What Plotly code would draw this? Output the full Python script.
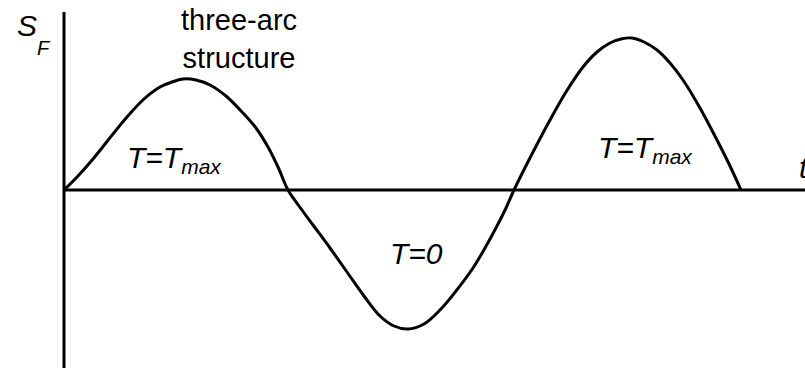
import plotly.graph_objects as go

# Curve samples (t, S_F) in arbitrary units
t_vals = [0, 14, 29, 45, 63, 80, 96, 108, 119, 132, 146, 162, 179, 192, 204, 214, 224,
          235, 249, 266, 283, 300, 316, 330, 344, 360, 376, 392, 409, 421, 433, 442, 450,
          468, 486, 502, 519, 533, 546, 557, 568, 580, 593, 606, 619, 636, 653, 666, 677]
s_vals = [0, 14, 31, 51, 73, 91, 103, 108, 111, 110, 105, 94, 77, 62, 43, 23, 0,
          -16, -35, -58, -82, -106, -126, -136, -139, -134, -120, -101, -78, -58, -36, -18, 0,
          36, 70, 98, 123, 138, 147, 151, 152, 148, 140, 127, 110, 82, 50, 24, 0]

region_labels = ["T=T<sub>max</sub>", "T=0", "T=T<sub>max</sub>"]
region_t = [61, 324, 532]
region_s = [31, -63, 41]

FONT = "Liberation Sans, Arial, sans-serif"

fig = go.Figure()
fig.add_trace(go.Scatter(x=t_vals, y=s_vals, mode="lines",
                         line=dict(color="black", width=3, shape="spline", smoothing=1.0),
                         hoverinfo="skip", showlegend=False))

# axes lines
fig.add_shape(type="line", x0=0, x1=0, y0=-178, y1=178, line=dict(color="black", width=3))
fig.add_shape(type="line", x0=0, x1=760, y0=0, y1=0, line=dict(color="black", width=3))

anns = []
for txt, tx, sy in zip(region_labels, region_t, region_s):
    anns.append(dict(x=tx, y=sy, text="<i>" + txt + "</i>", showarrow=False,
                     xanchor="left", yanchor="middle",
                     font=dict(family=FONT, size=30, color="black")))
anns.append(dict(x=-49, y=165, text="<i>S</i>", showarrow=False, xanchor="left", yanchor="middle",
                 font=dict(family=FONT, size=30, color="black")))
anns.append(dict(x=-29, y=142, text="<i>F</i>", showarrow=False, xanchor="left", yanchor="middle",
                 font=dict(family=FONT, size=20, color="black")))
anns.append(dict(x=175, y=151, text="three-arc<br>structure", showarrow=False,
                 xanchor="center", yanchor="middle", align="center",
                 font=dict(family=FONT, size=29, color="black")))
anns.append(dict(xref="paper", yref="paper", x=0.9905, y=0.546, text="<i>t</i>", showarrow=False,
                 xanchor="left", yanchor="middle",
                 font=dict(family=FONT, size=30, color="black")))
fig.update_layout(annotations=anns)

fig.update_layout(
    width=805, height=370,
    margin=dict(l=0, r=0, t=0, b=0),
    paper_bgcolor="white", plot_bgcolor="white",
    hovermode=False,
    xaxis=dict(range=[-64, 741], visible=False, fixedrange=True),
    yaxis=dict(range=[-180, 190], visible=False, fixedrange=True),
)
# remove the default page margin so the 805x370 figure fills the window exactly
fig.write_html("out.html",
               config={"displayModeBar": False, "staticPlot": True},
               post_script="document.body.style.margin='0';document.body.style.overflow='hidden';")
